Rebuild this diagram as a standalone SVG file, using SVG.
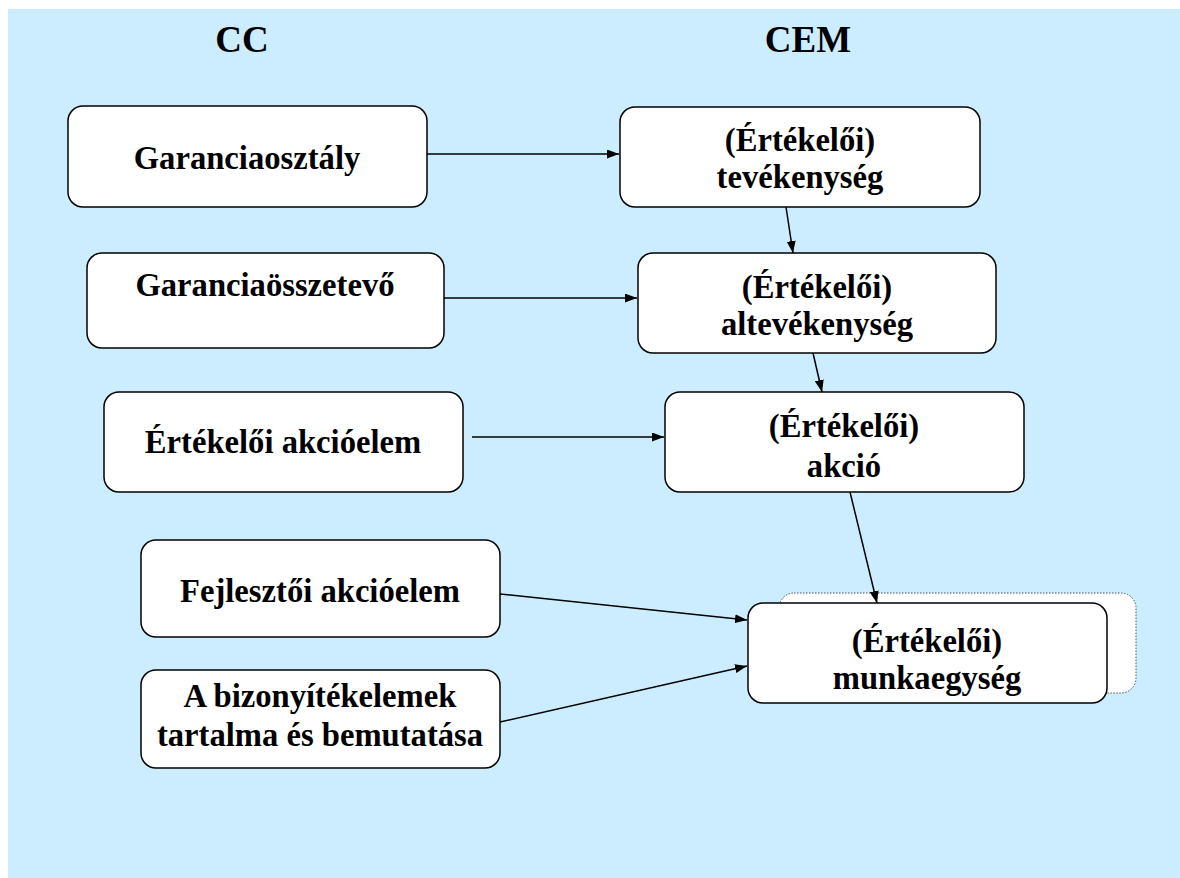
<svg xmlns="http://www.w3.org/2000/svg" width="1180" height="878" viewBox="0 0 1180 878">
<defs>
<style>
.box{fill:#fff;stroke:#000;stroke-width:1.5}
.back{fill:#fff;stroke:#555;stroke-width:1;stroke-dasharray:1.5 1.5}
.t{font-family:"Liberation Serif","Times New Roman",serif;font-weight:bold;font-size:34px;fill:#000;text-anchor:middle}
.h{font-family:"Liberation Serif","Times New Roman",serif;font-weight:bold;font-size:37px;fill:#000;text-anchor:middle}
.c{stroke:#000;stroke-width:1.5;fill:none;marker-end:url(#ah)}
</style>
<marker id="ah" viewBox="0 0 12 9" refX="12" refY="4.5" markerWidth="12" markerHeight="9" markerUnits="userSpaceOnUse" orient="auto">
<path d="M0,0 L12,4.5 L0,9 Z" fill="#000"/>
</marker>
</defs>
<rect x="0" y="0" width="1180" height="878" fill="#fff"/>
<rect x="8" y="9" width="1172" height="869" fill="#CCECFF"/>
<g id="title-cc"><text class="h" x="242" y="52">CC</text></g>
<g id="title-cem"><text class="h" x="808" y="52">CEM</text></g>
<g id="n-garanciaosztaly"><rect class="box" x="68" y="106" width="359" height="101" rx="15"/><text class="t" x="247" y="169" transform="translate(9.88,0) scale(0.96,1)">Garanciaosztály</text></g>
<g id="n-garanciaosszetevo"><rect class="box" x="87" y="253" width="357" height="95" rx="15"/><text class="t" x="265" y="296" transform="translate(10.6,0) scale(0.96,1)">Garanciaösszetevő</text></g>
<g id="n-ertekeloi-akcioelem"><rect class="box" x="104" y="392" width="359" height="100" rx="15"/><text class="t" x="283" y="453" transform="translate(11.32,0) scale(0.96,1)">Értékelői akcióelem</text></g>
<g id="n-fejlesztoi-akcioelem"><rect class="box" x="141" y="540" width="359" height="97" rx="15"/><text class="t" x="320" y="602" transform="translate(12.8,0) scale(0.96,1)">Fejlesztői akcióelem</text></g>
<g id="n-bizonyitekelemek"><rect class="box" x="141" y="670" width="359" height="98" rx="15"/><text class="t" x="320" y="707" transform="translate(12.8,0) scale(0.96,1)">A bizonyítékelemek</text><text class="t" x="320" y="746" transform="translate(12.8,0) scale(0.96,1)">tartalma és bemutatása</text></g>
<g id="n-tevekenyseg"><rect class="box" x="620" y="107" width="360" height="100" rx="15"/><text class="t" x="800" y="151" transform="translate(32,0) scale(0.96,1)">(Értékelői)</text><text class="t" x="800" y="188" transform="translate(32,0) scale(0.96,1)">tevékenység</text></g>
<g id="n-altevekenyseg"><rect class="box" x="638" y="253" width="358" height="100" rx="15"/><text class="t" x="817" y="298" transform="translate(32.68,0) scale(0.96,1)">(Értékelői)</text><text class="t" x="817" y="335" transform="translate(32.68,0) scale(0.96,1)">altevékenység</text></g>
<g id="n-akcio"><rect class="box" x="665" y="392" width="359" height="100" rx="15"/><text class="t" x="844" y="437" transform="translate(33.76,0) scale(0.96,1)">(Értékelői)</text><text class="t" x="844" y="477" transform="translate(33.76,0) scale(0.96,1)">akció</text></g>
<g id="n-munkaegyseg"><rect class="back" x="779" y="593" width="357" height="100" rx="15"/><rect class="box" x="748" y="603" width="359" height="100" rx="15"/><text class="t" x="927" y="652" transform="translate(37.08,0) scale(0.96,1)">(Értékelői)</text><text class="t" x="927" y="689" transform="translate(37.08,0) scale(0.96,1)">munkaegység</text></g>
<g id="connectors">
<line class="c" x1="427" y1="154" x2="619" y2="154"/>
<line class="c" x1="444" y1="298" x2="637" y2="298"/>
<line class="c" x1="472" y1="437" x2="664" y2="437"/>
<line class="c" x1="786" y1="207" x2="793" y2="253"/>
<line class="c" x1="813" y1="353" x2="822" y2="392"/>
<line class="c" x1="850" y1="492" x2="877" y2="603"/>
<line class="c" x1="500" y1="594" x2="747" y2="620"/>
<line class="c" x1="500" y1="722" x2="747" y2="666"/>
</g>
</svg>
